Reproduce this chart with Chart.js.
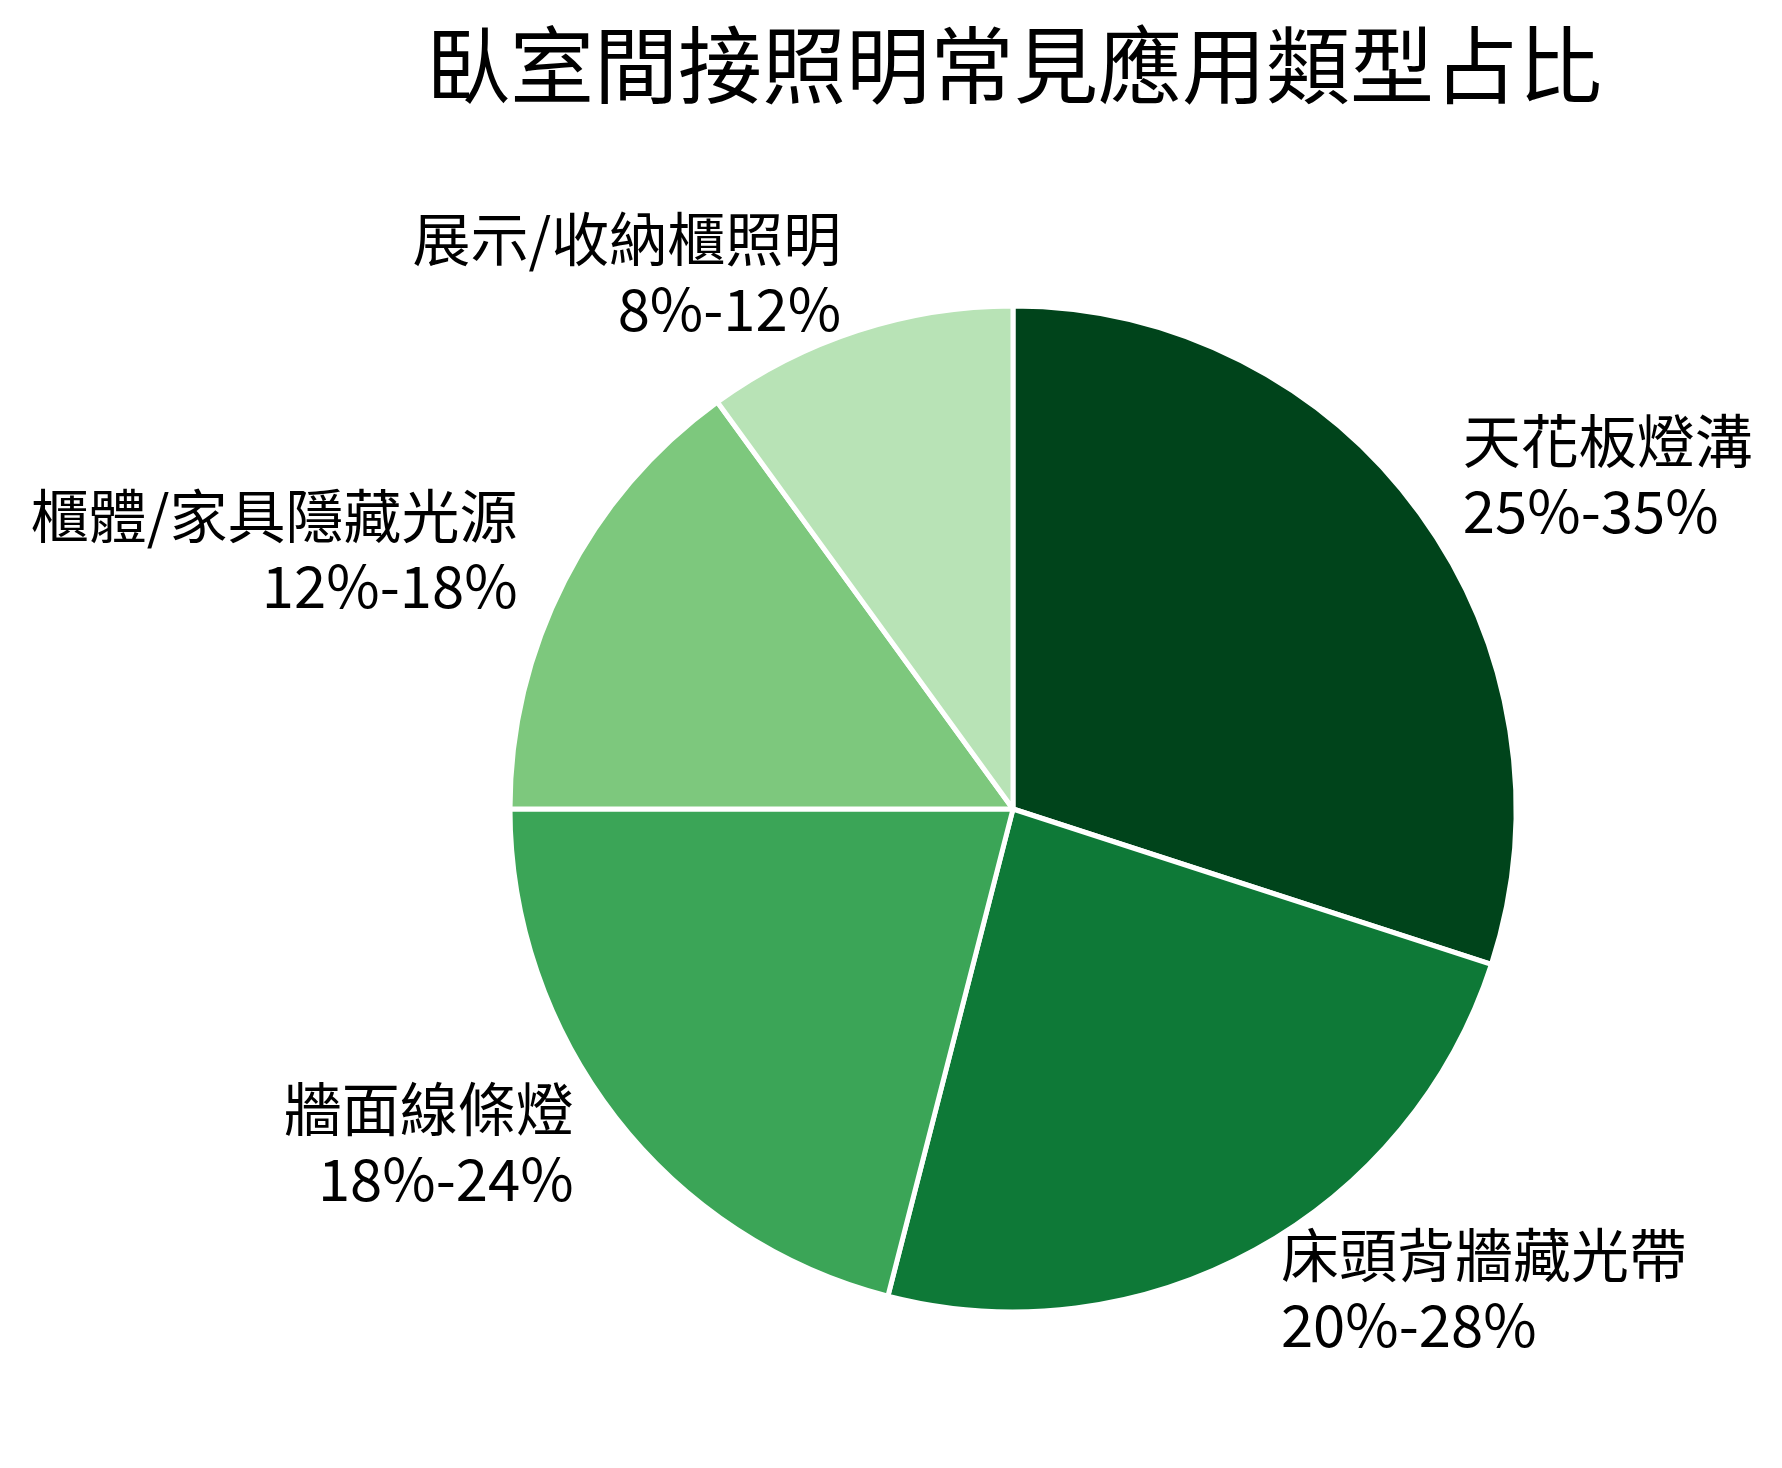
<!DOCTYPE html>
<html>
<head>
<meta charset="utf-8">
<script src="https://cdn.jsdelivr.net/npm/chart.js@4/dist/chart.umd.min.js"></script>
<style>
  html, body { margin: 0; padding: 0; background: #ffffff; }
  #wrap { position: relative; width: 1782px; height: 1468px; }
</style>
</head>
<body>
<div id="wrap"><canvas id="c"></canvas></div>
<script>
const chartTitle = '臥室間接照明常見應用類型占比';
const categories = ['天花板燈溝', '床頭背牆藏光帶', '牆面線條燈', '櫃體/家具隱藏光源', '展示/收納櫃照明'];
const rangeLabels = ['25%-35%', '20%-28%', '18%-24%', '12%-18%', '8%-12%'];
const values = [30, 24, 21, 15, 10];
const sliceColors = ['#00441b', '#0e7937', '#3ba557', '#7dc87d', '#b8e3b6'];

const FONT = "'Noto Sans CJK TC', 'Noto Sans CJK SC', sans-serif";

const labelPlugin = {
  id: 'outerLabels',
  afterDatasetsDraw(chart) {
    const ctx = chart.ctx;
    const meta = chart.getDatasetMeta(0);
    ctx.save();
    ctx.fillStyle = '#000000';
    ctx.font = '58px ' + FONT;
    ctx.textBaseline = 'middle';
    meta.data.forEach((arc, i) => {
      const p = arc.getProps(['x', 'y', 'startAngle', 'endAngle', 'outerRadius'], true);
      const mid = (p.startAngle + p.endAngle) / 2;
      const r = (p.outerRadius + 2.5) * 1.1;
      const ax = p.x + Math.cos(mid) * r;
      const ay = p.y + Math.sin(mid) * r;
      ctx.textAlign = Math.cos(mid) >= 0 ? 'left' : 'right';
      const cy = ay - 6;
      ctx.fillText(categories[i], ax, cy - 35);
      ctx.fillText(rangeLabels[i], ax, cy + 35);
    });
    // title
    const ca = chart.chartArea;
    ctx.font = '84px ' + FONT;
    ctx.textAlign = 'center';
    ctx.textBaseline = 'middle';
    ctx.fillText(chartTitle, (ca.left + ca.right) / 2 + 1, 65);
    ctx.restore();
  }
};

new Chart(document.getElementById('c'), {
  type: 'pie',
  data: {
    labels: categories,
    datasets: [{
      data: values,
      backgroundColor: sliceColors,
      borderColor: '#ffffff',
      borderWidth: 5
    }]
  },
  options: {
    responsive: true,
    maintainAspectRatio: false,
    animation: false,
    layout: { padding: { left: 507.5, right: 263.5, top: 303.5, bottom: 153.5 } },
    plugins: {
      legend: { display: false },
      tooltip: { enabled: false },
      title: { display: false }
    }
  },
  plugins: [labelPlugin]
});
</script>
</body>
</html>
